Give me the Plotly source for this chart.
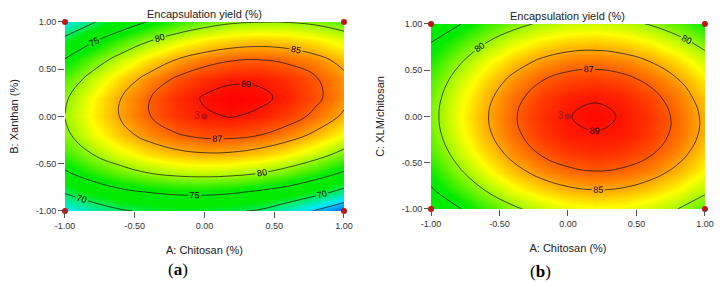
import plotly.graph_objects as go

# coded factor levels (grid where the response was read)
A_LEVELS = [-1.0, -0.8, -0.6, -0.4, -0.2, 0.0, 0.2, 0.4, 0.6, 0.8, 1.0]
B_LEVELS = [-1.0, -0.8, -0.6, -0.4, -0.2, 0.0, 0.2, 0.4, 0.6, 0.8, 1.0]
C_LEVELS = [-1.0, -0.8, -0.6, -0.4, -0.2, 0.0, 0.2, 0.4, 0.6, 0.8, 1.0]

# (a) Encapsulation yield (%) vs A: Chitosan and B: Xanthan (rows: B from -1 to 1)
YIELD_AB = [
    [66.00, 67.90, 69.60, 70.60, 71.00, 71.00, 70.40, 69.60, 67.30, 64.70, 62.00],
    [70.33, 72.52, 74.19, 75.10, 75.70, 75.80, 75.40, 74.50, 73.31, 71.34, 68.85],
    [74.50, 76.85, 78.67, 79.97, 80.76, 81.02, 80.76, 79.99, 78.69, 76.87, 74.54],
    [77.52, 80.01, 81.99, 83.44, 84.38, 84.79, 84.68, 84.06, 82.91, 81.25, 79.06],
    [79.37, 82.02, 84.14, 85.75, 86.84, 87.40, 87.45, 86.97, 85.98, 84.46, 82.43],
    [80.07, 82.87, 85.14, 86.90, 88.13, 88.85, 89.05, 88.72, 87.88, 86.51, 84.63],
    [79.61, 82.55, 84.98, 86.89, 88.27, 89.14, 89.49, 89.31, 88.62, 87.41, 85.67],
    [77.98, 81.08, 83.66, 85.72, 87.25, 88.27, 88.77, 88.75, 88.20, 87.14, 85.56],
    [75.20, 78.45, 81.18, 83.38, 85.07, 86.24, 86.89, 87.02, 86.63, 85.71, 84.28],
    [71.25, 74.65, 77.53, 79.89, 81.73, 83.05, 83.85, 84.13, 83.89, 83.13, 81.85],
    [66.15, 69.70, 72.73, 75.24, 77.23, 78.70, 79.65, 79.95, 79.90, 79.38, 78.25],
]

# (b) Encapsulation yield (%) vs A: Chitosan and C: XLM/chitosan (rows: C from -1 to 1)
YIELD_AC = [
    [71.46, 74.71, 77.39, 79.49, 81.02, 81.97, 82.34, 82.14, 81.36, 80.01, 78.08],
    [74.60, 77.42, 80.07, 82.15, 83.65, 84.58, 84.93, 84.71, 83.91, 82.53, 80.58],
    [76.32, 79.53, 82.16, 84.22, 85.70, 86.60, 86.93, 86.68, 85.86, 84.46, 82.48],
    [77.84, 81.03, 83.64, 85.67, 87.13, 88.01, 88.32, 88.05, 87.20, 85.78, 83.78],
    [78.78, 81.94, 84.53, 86.54, 87.97, 88.83, 88.92, 88.82, 87.95, 86.51, 84.48],
    [79.10, 82.24, 84.80, 86.79, 88.20, 88.95, 89.30, 88.90, 88.09, 86.62, 84.58],
    [78.82, 81.94, 84.48, 86.45, 87.84, 88.65, 88.89, 88.55, 87.63, 86.14, 84.08],
    [77.96, 81.05, 83.57, 85.51, 86.88, 87.67, 87.88, 87.52, 86.59, 85.07, 82.98],
    [76.48, 79.55, 82.05, 83.97, 85.31, 86.08, 86.27, 85.89, 84.93, 83.39, 81.28],
    [75.00, 77.47, 79.94, 81.83, 83.16, 83.90, 84.07, 83.66, 82.68, 81.12, 78.98],
    [72.50, 74.77, 77.22, 79.09, 80.39, 81.11, 81.26, 80.83, 79.82, 78.24, 76.08],
]

# design points (factorial corners + centre point with 3 replicates)
DESIGN_X = [-1, 1, -1, 1, 0]
DESIGN_Y = [-1, -1, 1, 1, 0]
DESIGN_TEXT = ["", "", "", "", "3"]

TICK_VALS = [-1.0, -0.5, 0.0, 0.5, 1.0]
TICK_TEXT = ["-1.00", "-0.50", "0.00", "0.50", "1.00"]

TITLE = "Encapsulation yield (%)"
X_TITLE = "A: Chitosan (%)"
Y_TITLES = ["B: Xanthan (%)", "C: XLM/chitosan"]
PANEL_TAGS = ["(<b>a</b>)", "(<b>b</b>)"]

COLORSCALE = [
    [0.0, "rgb(0,40,255)"],
    [0.20, "rgb(0,235,245)"],
    [0.40, "rgb(0,235,0)"],
    [0.53, "rgb(0,235,0)"],
    [0.76, "rgb(255,255,0)"],
    [1.0, "rgb(255,0,0)"],
]
ZMIN, ZMAX = 60.5, 89.5
FONT = "Arial, Liberation Sans, sans-serif"
SERIF = "Liberation Serif, Times New Roman, serif"

fig = go.Figure()

panels = [
    (YIELD_AB, B_LEVELS, "x", "y", [(65, 85, 5), (87, 89, 2)]),
    (YIELD_AC, C_LEVELS, "x2", "y2", [(75, 85, 5), (87, 89, 2)]),
]

for z, ylev, xa, ya, levels in panels:
    fig.add_trace(go.Heatmap(
        x=A_LEVELS, y=ylev, z=z, zsmooth="best", colorscale=COLORSCALE,
        zmin=ZMIN, zmax=ZMAX, showscale=False, xaxis=xa, yaxis=ya,
        hoverinfo="skip"))
    for start, end, size in levels:
        fig.add_trace(go.Contour(
            x=A_LEVELS, y=ylev, z=z, xaxis=xa, yaxis=ya,
            contours=dict(start=start, end=end, size=size, coloring="none",
                          showlabels=True,
                          labelfont=dict(size=9, color="black", family=FONT)),
            line=dict(color="rgba(20,20,20,0.9)", width=0.8, smoothing=1.2),
            showscale=False, hoverinfo="skip"))
    fig.add_trace(go.Scatter(
        x=DESIGN_X, y=DESIGN_Y, mode="markers+text", text=DESIGN_TEXT,
        textposition="middle left",
        textfont=dict(size=10, color="rgb(170,20,20)", family=FONT),
        marker=dict(size=6, color="rgb(190,20,20)"),
        cliponaxis=False, xaxis=xa, yaxis=ya, showlegend=False,
        hoverinfo="skip"))

axis_common = dict(
    range=[-1, 1], tickvals=TICK_VALS, ticktext=TICK_TEXT, showgrid=False,
    zeroline=False, showline=False, ticks="outside", ticklen=6,
    tickcolor="#555", tickfont=dict(size=9, color="#333", family=FONT),
    automargin=False,
)

fig.update_layout(
    width=726, height=282, margin=dict(l=0, r=0, t=0, b=0),
    paper_bgcolor="white", plot_bgcolor="white", showlegend=False,
    font=dict(family=FONT, color="#222"),
    xaxis=dict(domain=[0.0895, 0.4738], anchor="y",
               title=dict(text=X_TITLE, font=dict(size=11, color="#222"), standoff=16),
               **axis_common),
    yaxis=dict(domain=[0.252, 0.922], anchor="x",
               title=dict(text=Y_TITLES[0], font=dict(size=11, color="#222"), standoff=14),
               **axis_common),
    xaxis2=dict(domain=[0.5937, 0.971], anchor="y2",
                title=dict(text=X_TITLE, font=dict(size=11, color="#222"), standoff=16),
                **axis_common),
    yaxis2=dict(domain=[0.259, 0.915], anchor="x2",
                title=dict(text=Y_TITLES[1], font=dict(size=11, color="#222"), standoff=14),
                **axis_common),
    annotations=[
        dict(text=TITLE, x=0.2816, y=0.95, xref="paper", yref="paper",
             xanchor="center", yanchor="middle", showarrow=False,
             font=dict(size=11, color="#222", family=FONT)),
        dict(text=TITLE, x=0.7823, y=0.945, xref="paper", yref="paper",
             xanchor="center", yanchor="middle", showarrow=False,
             font=dict(size=11, color="#222", family=FONT)),
        dict(text=PANEL_TAGS[0], x=0.245, y=0.046, xref="paper", yref="paper",
             xanchor="center", yanchor="middle", showarrow=False,
             font=dict(size=17, color="black", family=SERIF)),
        dict(text=PANEL_TAGS[1], x=0.745, y=0.039, xref="paper", yref="paper",
             xanchor="center", yanchor="middle", showarrow=False,
             font=dict(size=17, color="black", family=SERIF)),
    ],
)

fig.write_html("out.html",
               config={"displayModeBar": False, "staticPlot": True},
               post_script="document.body.style.margin='0';document.body.style.overflow='hidden';")
